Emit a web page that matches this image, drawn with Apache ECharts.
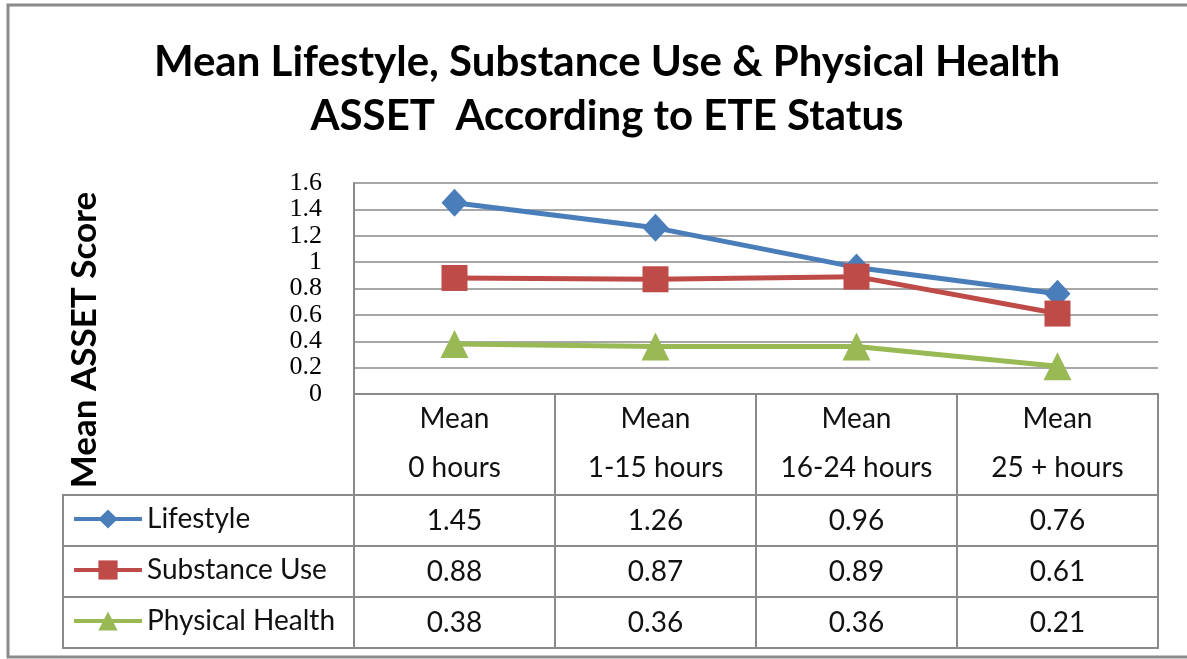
<!DOCTYPE html>
<html>
<head>
<meta charset="utf-8">
<script src="https://cdn.jsdelivr.net/npm/echarts@6/dist/echarts.min.js"></script>
<style>
    html, body { margin: 0; padding: 0; background: #fff; }
    #chart { width: 1187px; height: 659px; }
</style>
</head>
<body>
<div id="chart"></div>
<script>
// chart data
var categories = ['Mean\n0 hours', 'Mean\n1-15 hours', 'Mean\n16-24 hours', 'Mean\n25 + hours'];
var seriesNames = ['Lifestyle', 'Substance Use', 'Physical Health'];
var lifestyle = [1.45, 1.26, 0.96, 0.76];
var substanceUse = [0.88, 0.87, 0.89, 0.61];
var physicalHealth = [0.38, 0.36, 0.36, 0.21];
var yMin = 0, yMax = 1.6, yStep = 0.2;

var rowData = [lifestyle, substanceUse, physicalHealth];
var colors = ['#4A7EBB', '#BE4B48', '#98B954'];
var symbols = ['diamond', 'rect', 'triangle'];
var symbolSizes = [[26, 28], 26, 28];

var font = 'Lato';
var lineGray = '#8a8a8a';
var plotLeft = 354, plotWidth = 804;
var rowTops = [495, 546, 597];
var rowHeight = 51;

var myChart = echarts.init(document.getElementById('chart'));

var grids = [
    { left: plotLeft, width: plotWidth, top: 183, height: 211 },
    { left: plotLeft, width: plotWidth, top: 394, height: 101, show: true, borderColor: lineGray, borderWidth: 2 }
];
var xAxes = [
    {
        type: 'category', gridIndex: 0, data: categories,
        axisLine: { lineStyle: { color: lineGray, width: 2 } },
        axisTick: { show: false },
        axisLabel: { margin: 0, lineHeight: 49, fontSize: 28, fontFamily: font, color: '#111', verticalAlign: 'top' }
    },
    {
        type: 'category', gridIndex: 1, data: categories,
        axisLine: { show: false }, axisTick: { show: false }, axisLabel: { show: false },
        splitLine: { show: true, interval: 0, lineStyle: { color: lineGray, width: 2 } }
    }
];
var yAxes = [
    {
        type: 'value', gridIndex: 0, min: yMin, max: yMax, interval: yStep,
        axisLine: { show: true, lineStyle: { color: lineGray, width: 2 } },
        axisTick: { show: false },
        splitLine: { lineStyle: { color: lineGray, width: 1.5 } },
        axisLabel: {
            margin: 32, fontSize: 26, lineHeight: 22, fontFamily: 'Liberation Serif', color: '#000',
            hideOverlap: false, showMinLabel: true, showMaxLabel: true
        }
    },
    { type: 'value', gridIndex: 1, show: false }
];

rowData.forEach(function (vals, i) {
    grids.push({ left: plotLeft, width: plotWidth, top: rowTops[i], height: rowHeight, show: true, borderColor: lineGray, borderWidth: 2 });
    xAxes.push({
        type: 'category', gridIndex: i + 2, data: categories,
        axisLine: { show: false }, axisTick: { show: false },
        splitLine: { show: true, interval: 0, lineStyle: { color: lineGray, width: 2 } },
        axisLabel: {
            margin: -rowHeight / 2, verticalAlign: 'middle', fontSize: 28, fontFamily: font, color: '#111',
            formatter: function (v, idx) { return vals[idx].toFixed(2); }
        }
    });
    yAxes.push({ type: 'value', gridIndex: i + 2, show: false });
});

var series = seriesNames.map(function (name, i) {
    return {
        name: name,
        type: 'line',
        xAxisIndex: 0,
        yAxisIndex: 0,
        data: rowData[i],
        symbol: symbols[i],
        symbolSize: symbolSizes[i],
        itemStyle: { color: colors[i] },
        lineStyle: { color: colors[i], width: 5 }
    };
});

var legendCells = rowTops.map(function (top) {
    return {
        type: 'rect', shape: { x: 63, y: top, width: plotLeft - 63, height: rowHeight },
        style: { fill: null, stroke: lineGray, lineWidth: 2 }
    };
});

myChart.setOption({
    animation: false,
    title: {
        text: 'Mean Lifestyle, Substance Use & Physical Health\nASSET  According to ETE Status',
        left: 602,
        textAlign: 'center',
        top: 30,
        textStyle: { fontSize: 42, fontWeight: 'bold', fontFamily: font, color: '#000', lineHeight: 54 }
    },
    legend: {
        orient: 'vertical',
        left: 67,
        top: 500,
        itemWidth: 68,
        itemHeight: 24,
        itemGap: 23,
        textStyle: { fontSize: 28, fontFamily: font, color: '#111', lineHeight: 26 },
        lineStyle: { width: 4 },
        data: seriesNames
    },
    grid: grids,
    xAxis: xAxes,
    yAxis: yAxes,
    series: series,
    graphic: [
        {
            type: 'rect', shape: { x: 8, y: 5, width: 1200, height: 652 },
            style: { fill: null, stroke: lineGray, lineWidth: 3 }, z: -1
        },
        {
            type: 'text', x: 85, y: 340, rotation: Math.PI / 2,
            style: { text: 'Mean ASSET Score', font: 'bold 35px Lato', fill: '#000', textAlign: 'center', textVerticalAlign: 'middle' }
        }
    ].concat(legendCells)
});
</script>
</body>
</html>
